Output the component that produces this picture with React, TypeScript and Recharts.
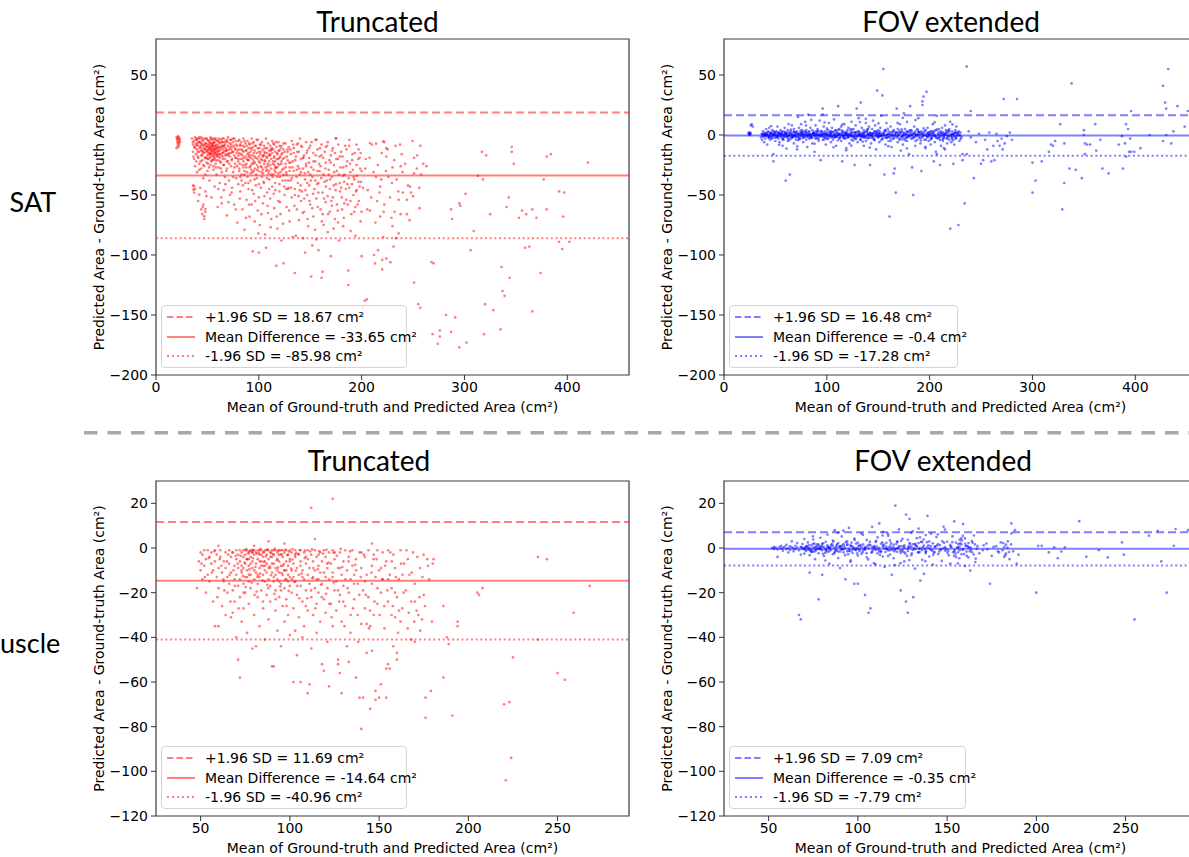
import React from 'react';
import { ScatterChart, Scatter, XAxis, YAxis, ReferenceLine, ReferenceArea, Legend, Label } from 'recharts';

type P = [number, number];

// ---------------- DATA ----------------
const colTitles = ['Truncated', 'FOV extended'];
const rowTitles = ['SAT', 'uscle'];

const satXTicks = [0, 100, 200, 300, 400];
const satYTicks = [-200, -150, -100, -50, 0, 50];
const muscleXTicks = [50, 100, 150, 200, 250];
const muscleYTicks = [-120, -100, -80, -60, -40, -20, 0, 20];

// [+1.96 SD, mean difference, -1.96 SD]
const satTruncLimits = [18.67, -33.65, -85.98];
const satExtLimits = [16.48, -0.4, -17.28];
const muscleTruncLimits = [11.69, -14.64, -40.96];
const muscleExtLimits = [7.09, -0.35, -7.79];

const satTruncated: P[] = [
  [20,-2],[20.5,-4],[21,-3],[21,-6],[21.5,-1],[22,-5],[22,-2],[22.5,-8],[23,-3],[23,-4],[21,-9],[20,-11],[22,-10],[23.5,-6],[21.5,-7],
  [35,-3],[36,-8],[36,-14],[37,-5],[37,-20],[38,-2],[38,-11],[38,-26],[39,-7],[39,-16],[40,-4],[40,-12],[40,-31],[41,-9],[41,-19],[42,-3],[42,-14],[42,-24],[43,-6],[43,-10],[43,-44],[44,-2],[44,-17],[44,-28],[45,-8],[45,-13],[45,-21],[46,-5],[46,-11],[46,-36],[47,-15],[47,-9],[47,-26],[48,-3],[48,-12],[48,-19],[48,-47],[49,-7],[49,-14],[49,-23],[50,-10],[50,-4],[50,-17],[50,-30],[51,-12],[51,-8],[51,-20],[52,-6],[52,-15],[52,-11],[52,-38],[53,-2],[53,-13],[53,-18],[53,-25],[54,-9],[54,-16],[54,-7],[54,-52],[55,-11],[55,-14],[55,-21],[55,-4],[56,-10],[56,-17],[56,-29],[56,-13],[57,-6],[57,-12],[57,-19],[57,-43],[58,-9],[58,-15],[58,-24],[58,-3],[59,-11],[59,-18],[59,-8],[59,-33],[60,-14],[60,-5],[60,-21],[60,-60],[61,-10],[61,-16],[61,-27],[62,-7],[62,-13],[62,-19],[62,-40],[63,-4],[63,-11],[63,-23],[64,-9],[64,-15],[64,-31],[64,-57],[65,-6],[65,-12],[65,-18],[66,-3],[66,-14],[66,-25],[66,-46],[67,-8],[67,-20],[67,-35],[68,-5],[68,-11],[68,-16],[69,-13],[69,-28],[69,-67],[70,-2],[70,-9],[70,-22],[71,-15],[71,-38],[72,-7],[72,-18],[72,-50],[73,-4],[73,-12],[73,-26],[74,-10],[74,-20],[74,-44],[75,-6],[75,-14],[75,-31],[76,-17],[76,-3],[76,-58],[77,-11],[77,-24],[78,-8],[78,-19],[78,-36],[79,-13],[79,-73],[80,-5],[80,-22],[80,-41],
  [36,-42],[37,-48],[38,-45],[41,-55],[44,-62],[45,-66],[46,-58],[47,-70],[48,-64],[45.5,-60],[48,-61.7],[47,-67.8],[37,-42.8],[36.4,-45.6],[42,-49.7],[49,-51],
  [40,-8],[42,-6],[44,-9],[46,-14],[48,-7],[50,-13],[52,-9],[54,-12],[56,-6],[58,-11],[60,-9],[62,-16],[64,-6],[66,-10],[68,-13],[70,-17],[45,-17],[49,-19],[53,-15],[57,-16],[61,-13],[65,-9],[51,-5],[55,-8],
  [81,-4],[81,-15],[81,-28],[82,-9],[82,-20],[82,-47],[83,-12],[83,-6],[83,-33],[84,-17],[84,-25],[84,-62],[85,-3],[85,-14],[85,-22],[86,-10],[86,-30],[86,-79],[87,-7],[87,-18],[87,-40],[88,-13],[88,-24],[88,-54],[89,-5],[89,-16],[89,-35],[90,-11],[90,-21],[90,-45],[91,-8],[91,-27],[91,-68],[92,-14],[92,-19],[92,-38],[93,-3],[93,-24],[93,-58],[94,-10],[94,-17],[94,-31],[94,-97],[95,-6],[95,-22],[95,-49],[96,-13],[96,-28],[96,-72],[97,-9],[97,-19],[97,-42],[98,-15],[98,-25],[98,-36],[99,-4],[99,-11],[99,-63],[100,-18],[100,-30],[100,-98],[100,-52],[101,-8],[101,-23],[101,-75],[102,-14],[102,-20],[102,-44],[103,-6],[103,-27],[103,-35],[104,-12],[104,-17],[104,-57],[105,-9],[105,-24],[105,-40],[106,-15],[106,-21],[106,-83],[107,-3],[107,-30],[107,-94],[108,-11],[108,-19],[108,-48],[109,-7],[109,-26],[109,-65],[110,-13],[110,-22],[110,-37],[111,-17],[111,-9],[111,-53],[112,-20],[112,-28],[112,-70],[113,-5],[113,-15],[113,-43],[114,-12],[114,-24],[114,-33],[115,-18],[115,-8],[115,-61],[116,-22],[116,-14],[116,-46],[117,-27],[117,-10],[117,-109],[118,-16],[118,-35],[118,-78],[119,-20],[119,-6],[119,-55],[120,-13],[120,-25],[120,-41],[121,-18],[121,-31],[121,-66],[122,-9],[122,-22],[122,-88],[123,-15],[123,-38],[124,-12],[124,-28],[124,-107],[125,-19],[125,-50],[126,-7],[126,-24],[127,-33],[127,-60],[128,-14],[128,-21],[129,-44],[129,-10],[130,-27],[130,-72],
  [88,-20],[92,-26],[96,-18],[100,-22],[104,-29],[108,-15],[112,-12],[116,-27],[120,-19],[85,-27],[90,-15],[95,-30],[105,-17],[110,-30],[115,-25],[119,-32],
  [131,-16],[131,-38],[132,-5],[132,-52],[133,-22],[133,-85],[134,-11],[134,-30],[135,-45],[135,-115],[136,-18],[136,-84],[137,-8],[137,-62],[138,-26],[138,-40],[139,-14],[139,-71],[140,-33],[140,-3],[141,-20],[141,-55],[142,-47],[142,-10],[143,-28],[143,-86],[144,-17],[144,-64],[145,-37],[145,-98],[146,-6],[146,-24],[147,-50],[147,-13],[148,-31],[148,-76],[149,-19],[149,-42],[150,-9],[150,-58],[151,-27],[151,-118],[152,-35],[152,-92],[153,-15],[153,-68],[154,-45],[155,-4],[155,-22],[156,-87],[156,-53],[157,-30],[157,-12],[158,-96],[158,-40],[159,-18],[160,-62],[160,-26],[161,-119],[161,-8],[162,-48],[162,-114],[163,-33],[163,-75],[164,-14],[165,-56],[165,-23],[166,-38],[167,-81],[167,-6],[168,-29],[169,-64],[169,-45],[170,-17],[170,-101],[171,-35],[172,-52],[172,-11],[173,-25],[174,-70],[175,-41],[175,-3],[176,-58],[177,-20],[178,-88],[178,-33],[179,-47],[180,-14],[181,-62],[182,-27],[182,-76],[183,-39],[184,-9],[185,-54],[186,-22],[187,-113],[187,-125],[188,-44],[189,-31],[190,-66],[191,-16],[192,-50],[193,-37],[194,-84],[195,-25],[196,-58],[197,-12],[198,-43],[199,-72],[200,-101],[200,-30],
  [201,-144],[203,-138],[205,-137],[204,-20],[206,-46],[208,-63],[210,-8],[212,-100],[213,-107],[214,-35],[215,-55],[216,-96],[218,-43],[218,-68],[219,-37],[220,-104],[220,-112],[221,-85],[222,-58],[222,-6],[224,-18],[224,-103],[226,-35],[228,-106],[229,-69],[230,-27],[230,-76],[231,-93],[232,-64],[233,-9],[234,-37],[236,-54],[236,-82],[238,-26],[238,-66],[239,-16],[240,-48],[244,-66],[244,-54],[245,-42],[247,-43],[248,-48],[250,-51],[251,-19],[251,-32],[251,-123],[254,-17],[255,-141],[256,-44],[257,-144],[257,-9],[258,-33],[260,-24],
  [263,-26],[268,-106],[269,-166],[270,-107],[274,-174],[276,-163],[276,-168],[282,-150],[287,-62],[287,-164],[288,-70],[291,-152],[295,-57],[295,-177],[296,-59],[301,-49],[302,-173],[306,-96],[309,-80],[313,-34],[317,-14],[318,-37],[319,-166],[320,-141],[321,-17],[325,-66],[328,-146],[335,-162],[336,-110],[337,-130],[339,-134],[341,-60],[343,-52],[344,-119],[346,-10],[346,-14],[348,-24],[353,-69],[356,-63],[360,-66],[359,-94],[363,-93],[366,-62],[366,-147],[370,-69],[374,-115],[377,-37],[380,-62],[380,-18],[384,-16],[392,-47],[392,-89],[396,-68],[397,-48],[395,-95],[402,-89],[420,-23]
];

const satTruncatedDense: P[] = [
  [38.4,-9],[39.6,-3],[40.8,-18],[41.3,-6],[42.7,-11],[43.4,-22],[44.6,-4],[45.3,-15],[46.8,-8],[47.4,-19],[48.6,-10],[49.3,-3],[50.6,-24],[51.4,-16],[52.7,-4],[53.3,-10],[54.6,-21],[55.7,-7],[56.4,-3],[57.6,-14],[58.3,-27],[59.7,-5],[60.4,-11],[61.6,-6],[62.3,-22],[63.7,-17],[64.4,-3],[65.6,-25],[66.3,-9],[67.7,-13],[68.4,-30],[69.6,-6],[70.3,-16],[71.7,-10],[72.4,-4],[73.6,-21],[74.3,-14],[75.7,-9],[76.4,-27],[77.6,-5],[78.3,-15],[79.7,-20],
  [50.2,-14],[51.8,-11],[53.1,-16],[54.2,-13],[55.4,-18],[56.8,-12],[57.2,-9],[58.9,-17],[59.2,-13],[52.3,-19],[54.9,-9],[56.1,-15],
  [80.6,-12],[81.4,-24],[82.7,-16],[83.3,-38],[84.6,-9],[85.4,-19],[86.7,-25],[87.3,-13],[88.6,-31],[89.4,-21],[90.7,-7],[91.3,-17],[92.6,-29],[93.4,-12],[94.7,-24],[95.3,-15],[96.6,-9],[97.4,-33],[98.7,-20],[99.3,-27],[100.6,-11],[101.4,-16],[102.7,-31],[103.3,-21],[104.6,-39],[105.4,-14],[106.7,-27],[107.3,-18],[108.6,-24],[109.4,-32],[110.7,-16],[111.3,-25],[112.6,-11],[113.4,-35],[114.7,-19],[115.3,-29],[116.6,-6],[117.4,-20],[118.7,-24],[119.3,-13],[120.6,-35],[121.4,-11],[122.7,-29],[123.3,-20],[124.6,-43],[125.4,-14],[126.7,-31],[127.3,-18],[128.6,-38],[129.4,-23],
  [130.6,-12],[131.4,-44],[132.7,-27],[133.3,-8],[134.6,-59],[135.4,-21],[136.7,-35],[137.3,-14],[138.6,-51],[139.4,-28],[140.7,-42],[141.3,-9],[142.6,-65],[143.4,-19],[144.7,-32],[145.3,-46],[146.6,-15],[147.4,-70],[148.7,-23],[149.3,-55],[150.6,-38],[151.4,-6],[152.7,-49],[153.3,-29],[154.6,-79],[155.4,-17],[156.7,-41],[157.3,-60],[158.6,-24],[159.4,-11],[160.7,-36],[161.3,-72],[162.6,-19],[163.4,-53],[164.7,-28],[165.3,-43],[166.6,-9],[167.4,-66],[168.7,-21],[169.3,-37],[170.6,-55],[171.4,-13],[172.7,-78],[173.3,-31],[174.6,-46],[175.4,-20],[176.7,-63],[177.3,-8],[178.6,-40],[179.4,-27],[180.7,-52],[181.3,-18],[182.6,-69],[183.4,-33],[184.7,-45],[185.3,-12],[186.6,-58],[187.4,-36],[188.7,-24],[189.3,-80],[190.6,-41],[191.4,-29],[192.7,-64],[193.3,-15],[194.6,-47],[195.4,-34],[196.7,-20],[197.3,-55],[198.6,-28],[199.4,-39],
  [201.3,-44],[203.6,-28],[205.4,-62],[207.7,-19],[209.3,-52],[211.6,-31],[213.4,-73],[215.7,-25],[217.3,-48],[219.6,-15],[221.4,-64],[223.7,-30],[225.3,-12],[227.6,-52],[229.4,-40],[231.7,-21],[233.3,-86],[235.6,-47],[237.4,-8],[239.7,-31],[242.3,-24],[246.6,-71],[249.4,-5],[253.7,-28],[256.3,-61],
  [175,-2.5],[188,-4],[195,-8],[208,-6.7],[214,-7.2],[221,-5.3],[224,-11],[199,-15]
];

const satTruncatedExtra: P[] = [
  [35.9,-6],[36.5,-18],[37.1,-10],[38.9,-4],[39.1,-22],[40.5,-14],[41.9,-2],[42.1,-29],[43.9,-13],[44.1,-7],[45.9,-25],[46.1,-3],[47.9,-12],[48.1,-33],[49.9,-9],[50.1,-20],[51.5,-27],[52.9,-7],[53.5,-22],[54.1,-3],[55.9,-26],[56.5,-20],[57.9,-4],[58.1,-21],[59.5,-16],[60.9,-18],[61.1,-3],[62.9,-10],[63.1,-28],[64.9,-20],[65.1,-15],[66.9,-6],[67.5,-17],[68.9,-22],[69.1,-4],[70.9,-12],[71.1,-24],[72.9,-15],[73.1,-8],[74.9,-3],[75.1,-35],[76.9,-12],[77.1,-19],[78.9,-26],[79.1,-9],
  [80.1,-17],[80.9,-30],[81.9,-8],[82.1,-35],[83.9,-20],[84.1,-13],[85.9,-33],[86.1,-5],[87.9,-27],[88.1,-9],[89.9,-40],[90.1,-18],[91.9,-11],[92.1,-32],[93.9,-7],[94.1,-20],[95.9,-37],[96.1,-23],[97.9,-4],[98.1,-29],[99.9,-14],[100.1,-41],[101.9,-26],[102.1,-8],[103.9,-18],[104.1,-32],[105.9,-22],[106.1,-11],[107.9,-36],[108.1,-29],[109.9,-17],[110.1,-45],[111.9,-13],[112.1,-33],[113.9,-22],[114.1,-7],[115.9,-40],[116.1,-31],[117.9,-15],[118.1,-27],[119.9,-9],[120.1,-47],[121.9,-24],[122.1,-16],[123.9,-33],[124.1,-7],[125.9,-38],[126.1,-27],[127.9,-12],[128.1,-45],[129.9,-30],
  [60.5,-45],[63.5,-52],[67.5,-41],[70.5,-56],[73.5,-48],[77.5,-62],[81.5,-53],[84.5,-42],[87.5,-69],[90.5,-58],[93.5,-46],[96.5,-55],[99.5,-82],[102.5,-66],[105.5,-51],[108.5,-59],[111.5,-77],[114.5,-49],[117.5,-68],[120.5,-56],[123.5,-74],[126.5,-45],[129.5,-63],
  [130.9,-23],[132.1,-36],[133.9,-15],[135.1,-50],[136.9,-29],[138.1,-7],[139.9,-46],[141.1,-31],[142.9,-19],[144.1,-53],[145.9,-26],[147.1,-40],[148.9,-11],[150.1,-33],[151.9,-61],[153.1,-22],[154.9,-38],[156.1,-4],[157.9,-48],[159.1,-30],[160.9,-17],[162.1,-66],[163.9,-39],[165.1,-10],[166.9,-51],[168.1,-33],[169.9,-23],[171.1,-59],[172.9,-42],[174.1,-15],[175.9,-30],[177.1,-73],[178.9,-18],[180.1,-44],[181.9,-34],[183.1,-57],[184.9,-26],[186.1,-41],[187.9,-9],[189.1,-55],[190.9,-21],[192.1,-35],[193.9,-60],[195.1,-46],[196.9,-39],[198.1,-19],[199.9,-64]
];

const satExtended: P[] = [
  [24,1],[24.5,0.5],[25,1.5],[25,0],[25.5,2],[26,1],[24,2],[26,8],[28,7],[27,9],
  [36,-2],[37,1],[37,-4],[38,3],[38,-1],[39,0],[39,-6],[40,2],[40,-3],[41,1],[41,5],[42,-1],[42,-8],[43,3],[43,0],[44,-2],[44,6],[45,1],[45,-4],[46,-1],[46,2],[47,4],[47,-3],[48,0],[48,-16],[48,-22],[49,2],[49,-2],[50,-5],[50,1],[51,3],[51,-1],[52,0],[52,7],[53,-3],[53,2],[54,1],[54,-6],[55,-1],[55,4],[56,2],[56,-2],[57,0],[57,-9],[58,3],[58,-4],[59,1],[59,6],[60,-1],[60,-38],
  [61,1],[61,-2],[62,4],[62,-5],[63,0],[63,2],[64,-1],[64,-33],[65,3],[65,-3],[66,1],[66,8],[67,-2],[67,0],[68,5],[68,-7],[69,2],[69,-1],[70,0],[70,-4],[71,3],[71,-12],[72,1],[72,15],[73,-2],[73,6],[74,0],[74,-3],[75,2],[75,9],[76,-1],[76,4],[77,1],[77,-6],[78,-2],[78,3],[79,0],[79,11],[80,-4],[80,2],[81,1],[81,-10],[82,17],[82,-1],[83,3],[83,-3],[84,0],[84,6],[85,-2],[85,1],[86,4],[86,-7],[87,0],[87,2],[88,-1],[88,-14],[89,3],[89,8],[90,1],[90,-3],[91,-2],[91,5],[92,0],[92,-5],[93,2],[93,12],[94,-1],[94,-21],[95,3],[95,0],[96,22],[96,17],[96,-4],[97,1],[97,7],[98,-2],[98,3],[99,0],[99,-8],[100,2],[100,-1],
  [40,0.5],[44,-0.5],[48,1],[52,-1],[56,0.5],[60,1.5],[64,0],[68,-0.5],[72,-1.5],[76,0.8],[80,0],[84,-1],[88,1.2],[92,0.3],[96,-0.8],[100,0.4],[58,-1],[66,-1.5],[74,1.5],[82,0.5],[90,-0.5],[98,1],
  [101,4],[101,-3],[102,0],[102,10],[103,-2],[103,1],[104,3],[104,-6],[105,-1],[105,6],[106,2],[106,-4],[107,0],[107,13],[108,-2],[108,1],[109,4],[109,-9],[110,-1],[110,2],[111,24],[111,0],[112,-3],[112,5],[113,1],[113,-2],[114,7],[114,-5],[115,0],[115,-22],[116,3],[116,-1],[117,1],[117,9],[118,-3],[118,2],[119,0],[119,-11],[120,4],[120,-2],[121,1],[121,6],[122,-1],[122,-7],[123,3],[123,0],[124,-4],[124,11],[125,2],[125,-1],[126,0],[126,5],[127,-3],[127,-25],[128,1],[128,8],[129,22],[129,-2],[130,3],[130,-6],[131,0],[131,14],[132,-1],[132,2],[133,27],[133,-4],[134,1],[134,6],[135,-2],[135,0],[136,4],[136,-9],[137,2],[137,-1],[138,-5],[138,10],[139,0],[139,3],[140,-3],[140,1],[141,7],[141,-2],[142,-25],[142,2],[143,0],[143,-7],[144,5],[144,-1],[145,1],[145,12],[146,-4],[146,2],[147,-1],[147,8],[148,3],[148,-12],[149,37],[149,0],[150,-2],[150,4],[151,1],[151,-6],[152,6],[152,-1],[153,0],[153,16],[154,33],[154,-3],[155,55],[155,2],[156,-33],[156,-1],[157,4],[157,-8],[158,0],[158,10],[159,-2],[159,1],[160,3],[160,-5],
  [104,0.5],[108,-0.6],[112,1],[116,-1.2],[120,0.2],[124,1.4],[128,-0.8],[132,0.6],[136,-1.5],[140,0.9],[144,-0.4],[148,1.1],[152,-0.9],[156,0.3],[110,1.8],[118,-0.3],[126,-2],[134,-0.6],[142,1.5],[150,0.7],
  [161,-68],[161,1],[162,-3],[162,7],[163,0],[163,-10],[164,2],[164,-1],[165,-32],[165,4],[166,-28],[166,0],[167,-48],[167,2],[168,-2],[168,22],[169,5],[169,-6],[170,0],[170,1],[171,-4],[171,9],[172,2],[172,-13],[173,-1],[173,3],[174,0],[174,-8],[175,18],[175,2],[176,-3],[176,5],[177,1],[177,-2],[178,11],[178,-5],[179,0],[179,3],[180,-1],[180,-16],[181,24],[181,2],[182,4],[182,-3],[183,-27],[183,0],[184,-50],[184,1],[185,-2],[185,7],[186,3],[186,-9],[187,0],[187,-1],[188,5],[188,-4],[189,2],[189,14],[190,-2],[190,0],[191,1],[191,-7],[192,-30],[192,3],[193,25],[193,28],[193,-1],[194,32],[194,2],[195,0],[195,-4],[196,4],[196,-11],[197,36],[197,1],[198,-2],[198,6],[199,0],[199,-5],[200,2],[200,-1],[201,3],[201,-8],[202,-3],[202,1],[203,0],[203,9],[204,-22],[204,2],[205,-1],[205,-6],[206,4],[206,-14],[207,16],[207,-16],[208,1],[208,-3],[209,-2],[209,5],[210,-25],[210,0],[211,3],[211,-9],[212,-1],[212,6],[213,2],[213,-5],[214,0],[214,-2],[215,8],[215,-12],[216,1],[216,4],[217,-3],[217,-7],[218,-1],[218,2],[219,5],[219,-4],[220,11],[220,-78],[221,0],[221,-6],[222,-2],[222,3],[223,-24],[223,1],[224,-8],[224,-1],[225,2],[225,4],[226,7],[226,-3],[227,0],[228,-75],[228,1],[229,-5],[230,2],[231,-2],[232,-16],[232,-21],
  [234,-57],[236,57],[236,-16],[238,3],[240,20],[240,-2],[243,-36],[245,-6],[248,1],[250,-24],[252,-21],[254,-4],[256,-12],[258,2],[260,-22],[262,-9],[263,-21],[265,1],[266,-5],[268,-9],[270,-3],[271,-12],[272,30],[273,-7],[275,-1],[278,2],[280,-4],[285,30],
  [300,-23],[300,-48],[303,-38],[309,-22],[316,-14],[318,-8],[320,-9],[322,-5],[327,9],[329,-62],[331,-7],[331,-40],[336,-28],[338,43],[342,-29],[348,-36],[350,4],[350,0],[351,-7],[351,-16],[353,-8],[356,-8],[361,9],[362,-13],[366,-4],[368,-28],[374,-32],[384,-8],[387,-1],[388,-28],[390,-7],[391,9],[391,-18],[393,5],[395,-3],[394,-14],[396,-14],[396,20],[399,-14],[405,-11],[414,0],[427,41],[427,-5],[429,27],[430,22],[430,0],[432,55],[435,-7],[437,3],[441,24],[448,7],[451,20]
];

const satExtendedDense: P[] = [
  [38.5,1.2],[40.3,-0.8],[42.6,2.3],[44.2,-1.6],[46.7,0.4],[48.4,3.1],[50.6,-2.2],[52.3,0.9],[54.8,-0.3],[56.4,2.7],[58.7,-1.4],[60.2,0.6],[62.5,-3.1],[64.3,1.8],[66.6,-0.7],[68.2,2.9],[70.5,-1.9],[72.7,0.2],[74.4,3.6],[76.6,-2.6],[78.3,1.1],[80.7,-0.4],[82.4,2.4],[84.6,-1.1],[86.3,0.7],[88.8,-2.8],[90.2,1.6],[92.5,-0.2],[94.4,3.3],[96.7,-1.7],[98.3,0.5],[100.6,-3.4],[102.4,1.9],[104.7,-0.6],[106.3,2.8],[108.6,-1.3],[110.4,0.1],[112.7,-2.5],[114.3,3.9],[116.6,-0.9],[118.4,1.4],[120.7,-2.1],[122.3,0.8],[124.5,4.4],[126.8,-1.5],[128.3,2.1],[130.6,-0.5],[132.4,-3.7],[134.7,1.7],[136.3,-1],[138.6,3.2],[140.4,0.3],[142.7,-2.3],[144.3,1],[146.6,-4.1],[148.4,2.6],[150.7,-0.8],[152.3,1.5],[154.6,-2.9],[156.4,3.8],[158.7,0],[160.3,-1.6],[162.6,2.5],[164.4,-3.3],[166.7,1.2],[168.3,-0.4],[170.6,3.5],[172.4,-2],[174.7,0.9],[176.3,-4.4],[178.6,1.9],[180.4,-0.6],[182.7,2.8],[184.3,-1.8],[186.6,0.4],[188.4,4.1],[190.7,-2.7],[192.3,1.3],[194.6,-0.2],[196.4,-3.9],[198.7,2.2],[200.3,0.7],[202.6,-1.4],[204.4,3.4],[206.7,-2.4],[208.3,0.2],[210.6,1.8],[212.4,-3.6],[214.7,0.5],[216.3,2.7],[218.6,-1.2],[220.4,0.8],[222.7,-4.5],[224.3,1.6],[226.6,-0.7],[228.4,3],
  [39.4,-0.3],[41.7,0.8],[43.3,-2.6],[45.6,1.5],[47.2,-0.6],[49.5,0.3],[51.8,-1.5],[53.4,2.1],[55.6,0.7],[57.3,-2.9],[59.5,1.9],[61.7,-0.2],[63.4,-4.3],[65.2,0.5],[67.7,2.6],[69.3,-1.1],[71.6,0.9],[73.2,-3.5],[75.5,1.3],[77.3,-0.5],[79.6,2.7],[81.2,-1.7],[83.5,0.4],[85.7,-2.3],[87.2,1.7],[89.6,-0.1],[91.4,3.7],[93.7,-1.2],[95.2,0.6],[97.5,-3.8],[99.7,1.1],[101.3,-0.7],[103.6,2.9],[105.2,-2],[107.5,0.3],[109.7,-1.4],[111.4,4.2],[113.6,-0.4],[115.2,1.2],[117.5,-2.7],[119.3,2.3],[121.6,-1.3],[123.2,0.4],[125.5,-4.8],[127.7,1.8],[129.4,-0.9],[131.2,2.8],[133.5,-1.6],[135.7,0.6],[137.3,-2.4],[139.6,4.7],[141.4,-0.3],[143.7,1.4],[145.2,-3],[147.5,0.8],[149.7,-1.8],[151.3,3],[153.6,-0.6],[155.3,1.1],[157.6,-2.2],[159.3,5.2],[161.5,-1],[163.7,0.4],[165.4,-2.6],[167.6,2.2],[169.2,-0.9],[171.5,1.6],[173.7,-3.7],[175.3,0.3],[177.5,2.9],[179.2,-1.5],[181.6,0.6],[183.3,-2.9],[185.5,1.4],[187.7,-0.3],[189.4,2.5],[191.6,-4.6],[193.2,0.8],[195.5,3.3],[197.7,-1.2],[199.4,0.2],[201.6,-2.6],[203.3,1.6],[205.5,-0.4],[207.2,4.5],[209.6,-1.9],[211.3,0.9],[213.5,-2.8],[215.4,1.5],[217.7,-0.2],[219.3,3.2],[221.6,-3.1],[223.4,0.6],[225.5,-1.6],[227.2,2],[229.6,-0.5],
  [45.8,7.5],[53.6,-8.2],[62.8,9.1],[71.2,-9.4],[79.8,7.9],[88.2,-7.3],[97.8,10.4],[106.5,-10.2],[114.9,8.6],[123.8,-8.9],[132.2,10.8],[141.8,-10.6],[150.2,9.7],[159.8,-9.3],[168.8,10.1],[177.8,-11.2],[186.2,12.4],[195.8,-9.8],[204.8,10.6],[213.8,-10.9],[222.2,8.8],[60.8,-11.3],[84.8,12.6],[118.8,-12.8],[137.9,13.5],[173.9,14.2]
];

const satExtendedExtra: P[] = [
  [36.8,0.6],[38.1,-1.1],[40.9,0.9],[42.2,-0.2],[44.8,1.7],[46.1,-2.4],[48.9,0.1],[50.2,2.5],[52.8,-0.9],[54.1,1.2],[56.9,-3.6],[58.2,0.4],[60.8,2.1],[62.1,-1.2],[64.9,4.6],[66.2,-2.1],[68.8,0.6],[70.1,1.9],[72.2,-4.2],[74.9,-0.5],[76.2,2.4],[78.8,-1.6],[80.1,4.1],[82.9,0.3],[84.2,-2.6],[86.9,1.4],[88.2,-0.3],[90.8,3.1],[92.1,-3.3],[94.9,0.7],[96.2,1.8],[98.8,-2.4],[100.1,5.3],[102.8,-0.8],[104.1,1.6],[106.9,-1.9],[108.2,3.6],[110.8,-4.6],[112.1,0.5],[114.9,2.2],[116.2,-2.8],[118.8,0.9],[120.1,-0.5],[122.9,4.9],[124.2,-1.3],[126.9,2.4],[128.2,-3.5],[130.8,1],[132.1,-0.2],[134.9,-5.6],[136.2,1.9],[138.8,-1.8],[140.1,5.1],[142.1,0.2],[144.9,-2.1],[146.2,3.1],[148.8,-0.9],[150.1,1.6],[152.9,-4.3],[154.2,0.5],[156.8,2.9],[158.1,-2.5],[160.9,0.9],[162.2,-5.1],[164.8,3.3],[166.1,-0.8],[168.9,1.9],[170.2,-3.1],[172.8,4.8],[174.1,-1.4],[176.9,0.3],[178.2,-2.2],[180.8,3.9],[182.1,-0.4],[184.9,1.2],[186.2,-4.9],[188.8,0.6],[190.1,2.6],[192.8,-1.9],[194.1,5.6],[196.9,-0.7],[198.2,1.4],[200.8,-3.8],[202.1,3],[204.9,-0.1],[206.2,-1.6],[208.8,2.4],[210.1,-4.2],[212.9,1.1],[214.2,-0.6],[216.8,-2.7],[218.1,3.6],[220.9,-1.1],[222.1,0.7],[224.8,-2.9],[226.2,1.9],[228.9,-0.3],[230.1,-3.3]
];

const muscleTruncated: P[] = [
  [112,18],[124,22],[114,4],[88,3],[97,2],[146,2],[60,1],[80,1],
  [48,-18],[49,-6],[50,-10],[50,-2],[51,-3],[51,-14],[52,-1],[52,-8],[53,-5],[53,-20],[54,-1],[54,-12],[55,-15],[55,-4],[56,-7],[56,-2],[57,-10],[57,-24],[58,-35],[58,-1],[58,-6],[59,-13],[59,-3],[60,-35],[60,-9],[60,-18],[61,-4],[61,-1],[62,-11],[62,-26],[63,-6],[63,-15],[64,-2],[64,-9],[64,-30],[65,-13],[65,-20],[66,-1],[66,-7],[66,-16],[67,-31],[67,-4],[67,-11],[68,-29],[68,-2],[68,-19],[69,-8],[69,-14],[69,-24],[70,-5],[70,-1],[70,-40],[70,-12],
  [71,-50],[71,-3],[71,-9],[71,-17],[72,-58],[72,-1],[72,-6],[72,-14],[72,-22],[73,-2],[73,-11],[73,-8],[73,-33],[74,-4],[74,-16],[74,-1],[74,-27],[75,-7],[75,-13],[75,-3],[75,-20],[76,-1],[76,-10],[76,-5],[76,-38],[77,-2],[77,-15],[77,-8],[77,-25],[78,-1],[78,-4],[78,-12],[78,-18],[79,-6],[79,-2],[79,-9],[79,-45],[80,-1],[80,-14],[80,-3],[80,-30],[81,-44],[81,-7],[81,-11],[81,-2],[82,-5],[82,-16],[82,-1],[82,-22],[83,-9],[83,-3],[83,-13],[83,-35],[84,-1],[84,-6],[84,-19],[84,-8],[85,-2],[85,-12],[85,-27],[85,-4],[86,-10],[86,-1],[86,-15],[86,-41],[87,-7],[87,-3],[87,-21],[87,-11],[88,-1],[88,-5],[88,-14],[88,-32],[89,-9],[89,-2],[89,-17],[89,-24],[90,-53],[90,-4],[90,-11],[90,-1],[91,-53],[91,-7],[91,-13],[91,-3],[92,-19],[92,-1],[92,-9],[92,-28],[93,-5],[93,-14],[93,-2],[93,-37],[94,-11],[94,-1],[94,-6],[94,-22],[95,-3],[95,-16],[95,-8],[95,-44],[96,-1],[96,-12],[96,-26],[96,-4],[97,-10],[97,-2],[97,-18],[97,-33],[98,-6],[98,-1],[98,-14],[98,-23],[99,-8],[99,-3],[99,-30],[99,-12],[100,-1],[100,-17],[100,-5],[100,-39],[101,-10],[101,-20],[101,-2],[102,-60],[102,-7],[102,-13],[102,-27],[103,-37],[103,-1],[103,-15],[103,-4],[104,-9],[104,-21],[104,-48],[105,-3],[105,-12],[105,-31],
  [74,-9],[76,-13],[78,-7],[80,-10],[82,-12],[84,-3],[86,-6],[88,-9],[90,-7],[92,-12],[94,-15],[96,-8],[98,-10],[100,-13],[75,-1],[79,-1],[83,-1],[87,-1],[91,-1],[95,-1],[77,-5],[85,-8],[93,-10],[99,-15],
  [106,-60],[106,-6],[106,-17],[106,-1],[107,-40],[107,-10],[107,-24],[108,-2],[108,-14],[108,-35],[109,-7],[109,-19],[109,-4],[110,-65],[110,-12],[110,-28],[110,-1],[111,-61],[111,-9],[111,-16],[112,-3],[112,-22],[112,-45],[113,-13],[113,-6],[113,-30],[114,-1],[114,-18],[114,-10],[115,-25],[115,-4],[115,-38],[116,-14],[116,-8],[116,-20],[117,-2],[117,-33],[117,-11],[118,-52],[118,-16],[118,-6],[119,-55],[119,-23],[119,-1],[120,-13],[120,-29],[120,-4],[121,-9],[121,-18],[121,-42],[122,-62],[122,-2],[122,-14],[123,-25],[123,-7],[124,-11],[124,-35],[124,-1],[125,-19],[125,-5],[126,-15],[126,-28],[127,-50],[127,-52],[127,-9],[128,-56],[128,-2],[128,-21],[129,-65],[129,-12],[129,-33],[130,-6],[130,-17],[131,-1],[131,-26],[132,-44],[132,-10],[133,-51],[133,-4],[133,-20],[134,-14],[134,-38],[135,-8],[135,-1],[136,-23],[136,-12],[137,-58],[137,-5],[138,-30],[138,-16],[139,-67],[139,-2],[140,-9],[140,-34],[140,-81],
  [141,-67],[141,-19],[142,-4],[142,-27],[143,-47],[143,-34],[143,-12],[144,-1],[144,-22],[145,-72],[145,-35],[146,-46],[146,-8],[146,-16],[147,-30],[147,-3],[148,-68],[148,-64],[148,-13],[149,-25],[149,-1],[150,-67],[150,-10],[151,-61],[151,-20],[152,-14],[152,-2],[153,-36],[154,-67],[154,-54],[154,-6],[155,-52],[155,-24],[155,-1],[156,-54],[156,-12],[157,-18],[157,-30],[158,-44],[158,-3],[159,-31],[159,-9],[160,-47],[160,-50],[160,-22],[161,-14],[162,-1],[162,-33],[163,-27],[164,-7],[165,-19],[166,-36],[167,-12],[168,-41],[168,-24],[169,-2],[170,-42],[170,-16],[171,-28],[172,-30],[173,-37],[173,-9],[174,-32],[175,-21],[176,-67],[176,-76],[177,-5],[178,-14],[179,-64],[180,-7],
  [186,-58],[186,-26],[188,-40],[189,-43],[191,-75],[194,-33],[194,-35],[205,-20],[206,-21],[208,-18],[220,-70],[221,-104],[223,-69],[224,-94],[225,-49],[239,-4],[239,-41],[244,-5],[250,-56],[254,-59],[259,-29],[268,-17]
];

const muscleTruncatedDense: P[] = [
  [72.4,-3.5],[73.7,-12.5],[74.6,-6.5],[75.3,-17.5],[76.7,-2.5],[77.4,-9.5],[78.6,-15.5],[79.3,-4.5],[80.7,-8.5],[81.4,-19.5],[82.6,-2.2],[83.3,-11.5],[84.7,-14.5],[85.4,-6.2],[86.6,-3.8],[87.3,-16.5],[88.7,-8.2],[89.4,-12.2],[90.6,-2.8],[91.3,-20.5],[92.7,-5.5],[93.4,-8.8],[94.6,-17.2],[95.3,-11.2],[96.7,-7.2],[97.4,-14.2],[98.6,-3.2],[99.3,-19.2],[100.7,-9.2],[101.4,-5.2],[102.6,-15.2],[103.3,-10.2],[104.7,-2.6],[105.3,-22.5],
  [50.5,-7],[52.4,-13],[54.6,-4.5],[56.3,-11],[57.7,-1.5],[59.4,-22],[61.6,-8],[63.3,-19],[65.5,-3],[66.7,-24],[68.4,-10],[69.6,-3.5],[71.3,-27],
  [106.6,-11.5],[108.3,-4.5],[109.7,-22.5],[111.4,-1.5],[112.6,-13.5],[114.3,-27],[115.7,-9.5],[117.4,-16.5],[118.6,-2.5],[120.3,-20.5],[121.7,-6.5],[123.4,-31],[124.6,-15.5],[126.3,-3.5],[127.7,-24],[129.4,-8.5],[130.6,-35],[132.3,-18],[133.7,-1.5],[135.4,-27],[136.6,-7.5],[138.3,-42],[139.7,-13],[141.4,-3],[142.6,-21],[144.3,-36],[145.7,-11],[147.4,-24],[148.6,-5],[150.3,-30],[151.7,-14],[153.4,-8],[154.6,-19],[156.3,-2],[157.7,-26],[159.4,-13],[160.6,-38],[162.3,-7],[163.7,-20],[165.4,-1],[166.6,-29],[168.3,-11],[169.7,-33],[171.4,-4],[172.6,-22],[174.3,-13],[175.7,-26],[177.4,-8],[179.6,-33],[180.5,-5]
];

const muscleTruncatedExtra: P[] = [
  [60.7,-5],[62.7,-14],[64.7,-6],[66.2,-12],[67.8,-2],[69.2,-17],[70.8,-7],[72.9,-10],[74.1,-20],[75.9,-5],[77.1,-12],[78.9,-2],[80.2,-21],[81.9,-13],[83.1,-6],[84.9,-24],[86.1,-8],[87.9,-18],[89.1,-4],[90.9,-15],[92.1,-23],[93.9,-3],[95.1,-19],[96.9,-10],[98.1,-26],[99.9,-6],[101.1,-14],[102.9,-3],[104.1,-17],[105.9,-8],[107.1,-13],[108.9,-26],[110.1,-5],[111.9,-19],[113.1,-9],[114.9,-14],[116.1,-3],[117.9,-22],[119.1,-11],[120.9,-7],[122.1,-25],[123.9,-13],[125.1,-2],[126.9,-19],[128.1,-9],[129.9,-24],[131.1,-14],[132.9,-6],[134.1,-30],[135.9,-16],[137.1,-10],[138.9,-21],[140.1,-2],[142.1,-15],[144.9,-28],[146.9,-5],[149.1,-18],[151.1,-9],[152.9,-26],[155.1,-14],[157.1,-6],[158.9,-20],[161.1,-28],[163.1,-12],[166.1,-5],[170.1,-24],[174.9,-3],
  [75.5,-0.5],[77.5,-1.5],[79.5,-0.8],[81.5,-2.5],[83.5,-0.4],[85.5,-1.8],[87.5,-0.6],[89.5,-2.2],[91.5,-0.3],[93.5,-1.2],[95.5,-2.8],[97.5,-0.7],[99.5,-1.6],[101.5,-0.5],[103.5,-2.3],[105.5,-0.9],[108.5,-1.1],[112.5,-0.6],[116.5,-1.4],[120.5,-0.8],[124.5,-2.1],[128.5,-0.4]
];

const muscleExtended: P[] = [
  [52,0],[53,-0.4],[53,0.5],[54,0.2],[55,-0.6],[55,-4],[56,0.4],[57,-0.3],[57,1],[58,0.1],[58,-1.2],[59,0.6],[60,-0.5],[60,1.4],[61,0],[61,-2],[62,0.8],[62,-0.9],[63,0.3],[63,3],[64,-0.2],[64,-1.5],[65,1],[65,-0.5],[66,0.2],[66,2.2],[67,-1],[67,-30],[68,0.5],[68,-32],[68,-3],[69,1.8],[69,-0.4],[70,0],[70,-2.5],[70,4],
  [71,0.7],[71,-1.3],[72,2.5],[72,-0.6],[73,0],[73,-11],[73,-3.2],[74,1.2],[74,-0.8],[75,3.8],[75,-1.7],[76,0.3],[76,-5],[77,1.6],[77,-0.2],[78,-2.4],[78,0.9],[78,-23],[79,0],[79,4.6],[80,-1],[80,1.9],[80,-12],[81,0.4],[81,-3.6],[82,2.8],[82,-0.5],[83,-1.8],[83,6],[84,0.2],[84,-7],[85,1.4],[85,-0.9],[86,3.3],[86,-2.8],[87,0],[87,8],[88,-1.2],[88,1.1],[89,-4.5],[89,2.2],[90,0.5],[90,-9],[91,-0.7],[91,5.2],[92,1.7],[92,-2],[93,0],[93,-14],[94,3],[94,-1.5],[95,-0.3],[95,9],[96,1.2],[96,-5.5],[97,-2.2],[97,0.6],[98,4.2],[98,-16],[99,0],[99,-1],[100,2.4],[100,-3.4],[100,-16],
  [72,0.2],[76,-0.8],[80,0.6],[84,-1.4],[88,0.3],[92,-0.6],[96,0.9],[100,-0.2],[74,-1.8],[78,1.6],[82,-0.9],[86,0.8],[90,-1.6],[94,1.3],[98,-0.4],[75,0.2],[79,-0.6],[83,0.4],[87,-1.8],[91,1.1],[95,-1.2],[99,2],
  [101,0.8],[101,-0.6],[102,6.5],[102,-2.6],[103,-1.1],[103,1.6],[104,-21],[104,0.2],[105,3.6],[105,-4.2],[106,0],[106,-29],[107,-27],[107,1.3],[108,-1.8],[108,9.5],[109,0.4],[109,-6.8],[110,2.7],[110,-0.9],[111,-2.4],[111,4.8],[112,0.1],[112,11],[113,-1.4],[113,1.9],[114,7.2],[114,-3.8],[115,-0.2],[115,-8.5],[116,2.3],[116,0.6],[117,-1.1],[117,5.5],[118,3.4],[118,-2.9],[119,0],[119,-12],[120,1.5],[120,-4.6],[121,-0.5],[121,19],[122,2.9],[122,-1.7],[123,0.7],[123,8.3],[124,-2.2],[124,-19],[125,4.1],[125,-0.8],[126,-6],[126,1.2],[127,15],[127,-24],[128,-1.3],[128,3.7],[128,-29],[129,13],[129,0.3],[130,-3.2],[130,6.8],[131,1.8],[131,-22],[132,-0.6],[132,-9.2],[133,4.4],[133,0.9],[134,-2.1],[134,8.7],[135,0],[135,-14.6],[136,2.6],[136,-5.3],[137,-11.6],[137,1.1],[138,5.8],[138,-1.4],[139,14.4],[139,0.4],[140,-3.8],[140,3],
  [104,-0.7],[108,0.5],[112,-1.5],[116,-0.4],[120,0.3],[124,0.9],[128,-0.2],[132,1.4],[136,-0.9],[110,-0.3],[114,1.1],[118,-1],[122,0],[126,-1.9],[130,0.6],[134,2.2],[138,-2.4],
  [141,-0.9],[141,6.4],[142,2.1],[142,-7.4],[143,-1.8],[143,0.5],[144,4.9],[145,-2.7],[146,1.3],[147,-5.8],[148,9.5],[148,0],[149,-1.2],[150,2.8],[151,-3.3],[152,0.7],[153,5.2],[154,11.9],[154,-1.6],[155,-4],[155,2.4],[156,0.2],[156,-6.9],[157,3.7],[157,-1],[158,1.6],[158,-2.8],[159,10.7],[159,-0.5],[160,4.3],[160,-8.1],[161,1],[161,-3.5],[162,2.2],[163,-10.1],[163,0.3],[164,-1.9],[165,5.6],[166,-4.8],[167,0.8],[168,-2.4],[170,-1],[172,2],[174,-16],[175,-3.5],[176,0.5],[179,-2],[180,2.5],[181,-1],[182,0.5],[182,-4],[183,1.5],[183,-2.5],[184,3],[185,-5],[186,6.5],[186,11],[187,-1.5],[188,8],[189,-7],[190,-3],
  [200,-20],[201,1],[203,1],[207,-2],[210,0.3],[212,-4.6],[214,-1.6],[216,0.3],[224,12],[228,-3.9],[235,-1],[240,-4.2],[248,2.5],[249,-3],[255,-32],[263,5.5],[268,7.7],[270,-6],[273,-20],[277,1],[278,8.5],[285,8]
];

const muscleExtendedDense: P[] = [
  [68.5,0.4],[70.4,-0.9],[72.6,1.3],[74.3,-1.6],[76.7,0.7],[78.4,-0.3],[80.6,2.1],[82.3,-1.2],[84.5,0.5],[86.8,-2.3],[88.4,1.6],[90.7,-0.4],[92.3,0.9],[94.6,-2.8],[96.4,2.4],[98.7,-0.7],[100.3,1.1],[102.6,-1.9],[104.4,0.3],[106.7,2.7],[108.3,-1.1],[110.6,0.6],[112.4,-3.1],[114.7,1.5],[116.3,-0.5],[118.6,2.2],[120.4,-1.4],[122.7,0.1],[124.3,3.2],[126.6,-2.5],[128.4,0.8],[130.7,-0.9],[132.3,1.9],[134.6,-1.7],[136.4,0.4],[138.7,2.6],[140.3,-0.2],[142.6,-2.1],[144.4,1.2],[146.7,-0.6],[148.3,2.3],[150.6,-1.3],[152.4,0.5],[154.7,-2.6],[156.3,1.7],[158.6,-0.8],[160.4,0.9],[162.7,-1.5],[164.3,2.4],[166.6,-0.4],
  [69.7,-0.2],[71.5,0.8],[73.4,-1.3],[75.6,2],[77.3,-0.6],[79.5,1],[81.7,-2.2],[83.4,0.3],[85.6,1.8],[87.4,-1.1],[89.7,0.6],[91.5,-0.2],[93.3,2.6],[95.6,-1.4],[97.4,0.2],[99.6,-2.4],[101.5,1.4],[103.7,-0.4],[105.4,1],[107.6,-2.1],[109.3,0.9],[111.5,-0.7],[113.7,2.5],[115.4,-1.8],[117.6,0.3],[119.3,-0.9],[121.5,1.8],[123.7,-1.2],[125.4,0.6],[127.6,-3.5],[129.3,1.7],[131.5,0],[133.7,-1.9],[135.4,2.8],[137.6,-0.3],[139.5,1.2],[141.7,-1.2],[143.4,0.7],[145.6,-1.6],[147.3,3],[149.5,-0.5],[151.7,1.4],[153.4,-1.9],[155.6,0.2],[157.3,2.1],[159.5,-2.7],[161.7,0.6],[163.4,-0.8],[165.6,1.6],
  [74.8,5.2],[81.8,-5.6],[88.8,6.8],[95.8,-6.2],[102.8,5.9],[109.8,-7.3],[116.8,6.4],[123.9,-6.8],[130.8,7.5],[137.8,-5.9],[144.8,6.1],[151.8,-7],[158.8,5.4],[165.8,-6.3],[91.8,7.8],[120.8,-7.7],[148.8,8.2],[105.8,-5.1],[134.8,4.8],[113.8,5.6],[128.8,-5.4],[156.8,-4.6],[170.5,1.2],[172.6,-0.6],[177.5,0.8],[178.5,-1.5],[181.4,2.2],[182.6,-3.2],[183.8,0.2],[184.6,-1.8],[185.8,1.6]
];

const muscleExtendedExtra: P[] = [
  [70.9,0.4],[72.8,-0.8],[74.9,1.9],[76.2,-1.4],[78.7,0.2],[80.4,-2.6],[82.9,1.2],[84.1,-0.3],[86.3,2.9],[88.9,-1.6],[90.2,0.7],[92.9,-3.2],[94.2,1.7],[96.9,-0.9],[98.2,3.6],[100.9,-1.3],[102.2,0.5],[104.9,-2.3],[106.2,1.4],[108.9,-0.1],[110.2,3.2],[112.9,-1.8],[114.2,0.6],[116.9,-3.6],[118.2,1.1],[120.9,-0.6],[122.2,2.7],[124.9,-1.5],[126.2,0.2],[128.9,2.2],[130.2,-2.4],[132.9,0.7],[134.2,-0.3],[136.9,3.8],[138.2,-1.7],[140.9,0.9],[142.2,-3.1],[144.9,1.8],[146.2,-0.8],[148.9,0.4],[150.2,-2.2],[152.9,2.6],[154.2,-1],[156.9,0.5],[158.2,3.3],[160.9,-1.6],[162.2,0.1],[164.9,-2.9],[153.9,-3.5],[157.9,4.3],[161.9,-4.2],[163.9,3.1],[160.1,1.9],[156.1,-1.9]
];

// ---------------- RENDERING ----------------
const TICK_FONT = 'DejaVu Sans';
const TITLE_FONT = 'Lato';

const fmtTick = (v: number) => String(v).replace('-', '\u2212');

type PanelProps = {
  left: number; top: number; plotH: number;
  points: P[]; color: string; limits: number[];
  xDomain: [number, number]; yDomain: [number, number];
  xTicks: number[]; yTicks: number[]; legendWidth: number;
};

const PW = 473;
const ML = 120, MT = 40, MR = 20, MB = 60;

function Panel(props: PanelProps) {
  const { left, top, plotH, points, color, limits, xDomain, yDomain, xTicks, yTicks, legendWidth } = props;
  const W = ML + PW + MR;
  const H = MT + plotH + MB;
  const data = points.map(([x, y]) => ({ x, y }));
  const dot = (p: any) => (
    <circle cx={p.cx} cy={p.cy} r={1.35} fill={color} fillOpacity={0.5} />
  );
  const labels = [
    `+1.96 SD = ${limits[0]} cm\u00b2`,
    `Mean Difference = ${limits[1]} cm\u00b2`,
    `-1.96 SD = ${limits[2]} cm\u00b2`,
  ];
  const legendDash = ['6.5 3', undefined, '2 3'];
  const legendContent = () => (
    <div style={{
      position: 'relative', width: legendWidth, height: 63, boxSizing: 'border-box',
      border: '1px solid #d4d4d4', borderRadius: 4, background: 'rgba(255,255,255,0.8)',
      fontFamily: TICK_FONT, fontSize: 14, color: '#000',
    }}>
      {labels.map((t, i) => {
        const cy = 11 + i * 19.7;
        return (
          <React.Fragment key={i}>
            <svg style={{ position: 'absolute', left: 5, top: cy - 3 }} width={30} height={6}>
              <line x1={0} y1={3} x2={28} y2={3} stroke={color} strokeOpacity={0.5} strokeWidth={2}
                strokeDasharray={legendDash[i]} />
            </svg>
            <span style={{ position: 'absolute', left: 43, top: cy - 9, lineHeight: '18px', whiteSpace: 'nowrap' }}>{t}</span>
          </React.Fragment>
        );
      })}
    </div>
  );
  return (
    <div style={{ position: 'absolute', left: left - ML, top: top - MT }}>
      <ScatterChart width={W} height={H} margin={{ top: MT, right: MR, bottom: 30, left: 0 }}>
        <XAxis type="number" dataKey="x" domain={xDomain} ticks={xTicks} allowDataOverflow interval={0}
          height={30} axisLine={false} tickLine={{ stroke: '#333' }} tickSize={5} tickMargin={2}
          tickFormatter={fmtTick}
          tick={{ fill: '#000', fontSize: 14, fontFamily: TICK_FONT }}>
          <Label content={(lp: any) => {
            const vb = lp.viewBox || { x: ML, y: MT + plotH, width: PW };
            return (
              <text x={vb.x + vb.width / 2} y={vb.y + 32} textAnchor="middle" dominantBaseline="central"
                fontFamily={TICK_FONT} fontSize={14} fill="#000">
                Mean of Ground-truth and Predicted Area (cm{'\u00b2'})
              </text>
            );
          }} />
        </XAxis>
        <YAxis type="number" dataKey="y" domain={yDomain} ticks={yTicks} allowDataOverflow interval={0}
          width={ML} axisLine={false} tickLine={{ stroke: '#333' }} tickSize={5} tickMargin={3}
          tickFormatter={fmtTick}
          tick={{ fill: '#000', fontSize: 14, fontFamily: TICK_FONT }}>
          <Label content={(lp: any) => {
            const vb = lp.viewBox || { x: 0, y: MT, width: ML, height: plotH };
            const cx = vb.x + vb.width - 57.5;
            const cy = vb.y + vb.height / 2;
            return (
              <text x={cx} y={cy} textAnchor="middle" dominantBaseline="central"
                transform={`rotate(-90 ${cx} ${cy})`}
                fontFamily={TICK_FONT} fontSize={14} fill="#000">
                Predicted Area - Ground-truth Area (cm{'\u00b2'})
              </text>
            );
          }} />
        </YAxis>
        <Scatter data={data} shape={dot} isAnimationActive={false} />
        <ReferenceLine y={limits[0]} stroke={color} strokeOpacity={0.5} strokeWidth={2} strokeDasharray="8 4" />
        <ReferenceLine y={limits[1]} stroke={color} strokeOpacity={0.5} strokeWidth={2} />
        <ReferenceLine y={limits[2]} stroke={color} strokeOpacity={0.5} strokeWidth={2} strokeDasharray="2 2.7" />
        <ReferenceArea x1={xDomain[0]} x2={xDomain[1]} y1={yDomain[0]} y2={yDomain[1]}
          fill="none" fillOpacity={0} stroke="#3a3a3a" strokeWidth={1.2} ifOverflow="visible" />
        <Legend layout="vertical" align="center" verticalAlign="middle"
          wrapperStyle={{ left: ML + 5, top: MT + plotH - 70, width: legendWidth, height: 63 }}
          content={legendContent} />
      </ScatterChart>
    </div>
  );
}

export default function App() {
  return (
    <div style={{ position: 'fixed', left: 0, top: 0, width: 1189, height: 857, overflow: 'hidden', background: '#fff' }}>
      <svg style={{ position: 'absolute', left: 0, top: 0 }} width={1189} height={857}>
        <text x={377.5} y={32} textAnchor="middle" fontFamily={TITLE_FONT} fontSize={28} fill="#000">{colTitles[0]}</text>
        <text x={951} y={32} textAnchor="middle" fontFamily={TITLE_FONT} fontSize={28} fill="#000">{colTitles[1]}</text>
        <text x={369} y={470.5} textAnchor="middle" fontFamily={TITLE_FONT} fontSize={28} fill="#000">{colTitles[0]}</text>
        <text x={943} y={470.5} textAnchor="middle" fontFamily={TITLE_FONT} fontSize={28} fill="#000">{colTitles[1]}</text>
        <text x={9.6} y={212.3} fontFamily={TITLE_FONT} fontSize={27} fill="#000">{rowTitles[0]}</text>
        <text x={0} y={652.7} fontFamily={TITLE_FONT} fontSize={27} fill="#000">{rowTitles[1]}</text>
        <line x1={84} y1={432.7} x2={1189} y2={432.7} stroke="#a8a8a8" strokeWidth={3.5} strokeDasharray="13.5 10" />
      </svg>
      <Panel left={156} top={39} plotH={336} points={[...satTruncated, ...satTruncatedDense, ...satTruncatedExtra]} color="#ff0000" limits={satTruncLimits}
        xDomain={[0, 460]} yDomain={[-200, 80]} xTicks={satXTicks} yTicks={satYTicks} legendWidth={246} />
      <Panel left={724} top={39} plotH={336} points={[...satExtended, ...satExtendedDense, ...satExtendedExtra]} color="#0000ff" limits={satExtLimits}
        xDomain={[0, 460]} yDomain={[-200, 80]} xTicks={satXTicks} yTicks={satYTicks} legendWidth={229} />
      <Panel left={156} top={481} plotH={335} points={[...muscleTruncated, ...muscleTruncatedDense, ...muscleTruncatedExtra]} color="#ff0000" limits={muscleTruncLimits}
        xDomain={[25, 290]} yDomain={[-120, 30]} xTicks={muscleXTicks} yTicks={muscleYTicks} legendWidth={246} />
      <Panel left={724} top={481} plotH={335} points={[...muscleExtended, ...muscleExtendedDense, ...muscleExtendedExtra]} color="#0000ff" limits={muscleExtLimits}
        xDomain={[25, 290]} yDomain={[-120, 30]} xTicks={muscleXTicks} yTicks={muscleYTicks} legendWidth={237} />
    </div>
  );
}
